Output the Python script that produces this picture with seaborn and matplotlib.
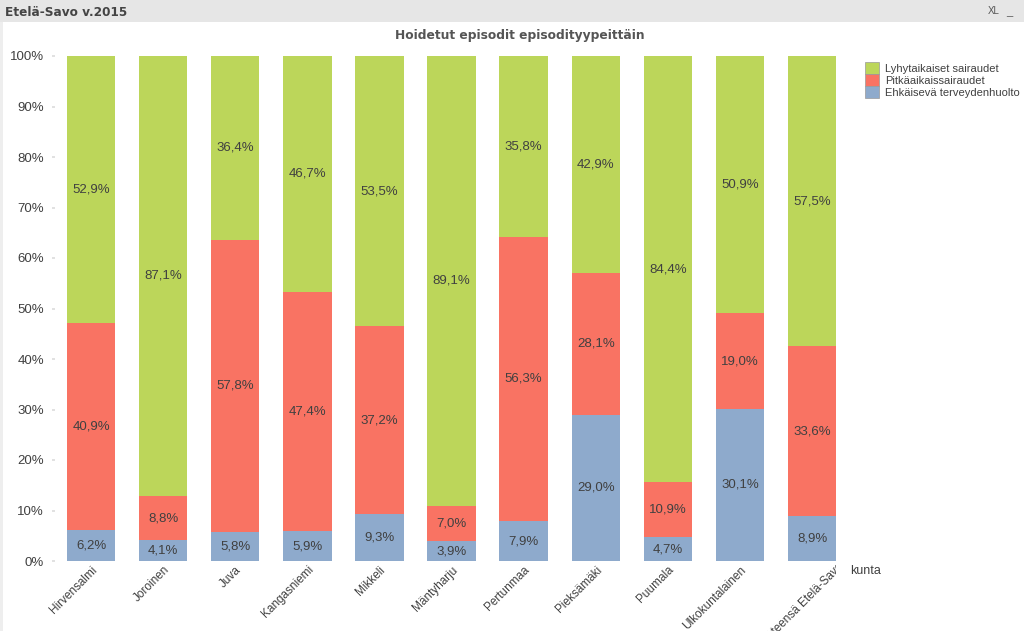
import pandas as pd
import seaborn as sns
import matplotlib.pyplot as plt
from matplotlib.patches import Rectangle
from matplotlib.transforms import Bbox, ScaledTranslation

kunnat = ["Hirvensalmi", "Joroinen", "Juva", "Kangasniemi", "Mikkeli", "Mäntyharju",
          "Pertunmaa", "Pieksämäki", "Puumala", "Ulkokuntalainen", "Yhteensä Etelä-Savo"]
ehkaiseva = [6.2, 4.1, 5.8, 5.9, 9.3, 3.9, 7.9, 29.0, 4.7, 30.1, 8.9]
pitkaaikaiset = [40.9, 8.8, 57.8, 47.4, 37.2, 7.0, 56.3, 28.1, 10.9, 19.0, 33.6]
lyhytaikaiset = [52.9, 87.1, 36.4, 46.7, 53.5, 89.1, 35.8, 42.9, 84.4, 50.9, 57.5]

series = ["Lyhytaikaiset sairaudet", "Pitkäaikaissairaudet", "Ehkäisevä terveydenhuolto"]
colors = {"Lyhytaikaiset sairaudet": "#bcd65a",
          "Pitkäaikaissairaudet": "#f97363",
          "Ehkäisevä terveydenhuolto": "#8eaacc"}

df = pd.DataFrame({"kunta": kunnat, "ehk": ehkaiseva, "pitk": pitkaaikaiset, "lyh": lyhytaikaiset})
df["top_blue"] = df["ehk"]
df["top_red"] = df["ehk"] + df["pitk"]
df["top_green"] = df["top_red"] + df["lyh"]

sns.set_theme(style="white")
plt.rcParams["font.family"] = ["Liberation Sans", "DejaVu Sans"]

fig = plt.figure(figsize=(10.24, 6.31), dpi=100)
W, H = 1024, 631
ax = fig.add_axes([55 / W, 1 - 561 / H, (838 - 55) / W, (561 - 56) / H])

# stacked bars: cumulative totals drawn from the tallest down
for col, name in [("top_green", series[0]), ("top_red", series[1]), ("top_blue", series[2])]:
    sns.barplot(data=df, x="kunta", y=col, color=colors[name], width=0.67,
                saturation=1, ax=ax, linewidth=0)

# value labels
for i, row in df.iterrows():
    for lo, val in [(0, row["ehk"]), (row["top_blue"], row["pitk"]), (row["top_red"], row["lyh"])]:
        ax.text(i, lo + val / 2, f"{val:.1f}%".replace(".", ","), ha="center", va="center",
                fontsize=9.5, color="#404040")

ax.set_xlim(-0.5, 10.36)
ax.set_ylim(0, 100)
ax.set_yticks(range(0, 101, 10))
ax.set_yticklabels([f"{v}%" for v in range(0, 101, 10)], fontsize=9.5, color="#404040")
ax.tick_params(axis="y", length=2, color="#dddddd", pad=6, left=True)
ax.tick_params(axis="x", length=0, pad=2)
ax.set_xlabel("")
ax.set_ylabel("")
for s in ax.spines.values():
    s.set_visible(False)

clip = Bbox.from_extents(0, 0, 836, H)
labels = ax.get_xticklabels()
for lab in labels:
    lab.set_rotation(45)
    lab.set_ha("right")
    lab.set_rotation_mode("anchor")
    lab.set_fontsize(8.5)
    lab.set_color("#404040")
# the last label runs past the plot edge and is cut there, as in the original
last = labels[-1]
last.set_transform(last.get_transform() + ScaledTranslation(0.26, 0.03, fig.dpi_scale_trans))
last.set_clip_box(clip)
last.set_clip_on(True)

# legend
handles = [Rectangle((0, 0), 1, 1, facecolor=colors[s], edgecolor="#999999", linewidth=0.5) for s in series]
fig.legend(handles, series, loc="upper left", bbox_to_anchor=(861 / W, 1 - 58 / H),
           frameon=False, fontsize=8, handlelength=1.2, handleheight=1.2,
           handletextpad=0.6, labelspacing=0.05, borderaxespad=0, labelcolor="#404040")

fig.text(850 / W, 1 - 571 / H, "kunta", fontsize=9, color="#404040", va="center")

# title bar
fig.patches.append(Rectangle((0, 1 - 22 / H), 1, 22 / H, transform=fig.transFigure,
                             facecolor="#e6e6e6", edgecolor="none", zorder=0))
fig.patches.append(Rectangle((0, 0), 3 / W, 1 - 22 / H, transform=fig.transFigure,
                             facecolor="#eeeeee", edgecolor="none", zorder=0))
fig.text(5 / W, 1 - 12 / H, "Etelä-Savo v.2015", fontsize=8.7, fontweight="bold",
         color="#444444", va="center", family=["DejaVu Sans"])
fig.text(988 / W, 1 - 11 / H, "XL", fontsize=7, color="#555555", va="center")
fig.text(1006 / W, 1 - 12 / H, "_", fontsize=8, color="#555555", va="center")
fig.text(520 / W, 1 - 35 / H, "Hoidetut episodit episodityypeittäin", fontsize=8.8,
         fontweight="bold", color="#555555", ha="center", va="center", family=["DejaVu Sans"])

fig.savefig("out.png", dpi=100)
